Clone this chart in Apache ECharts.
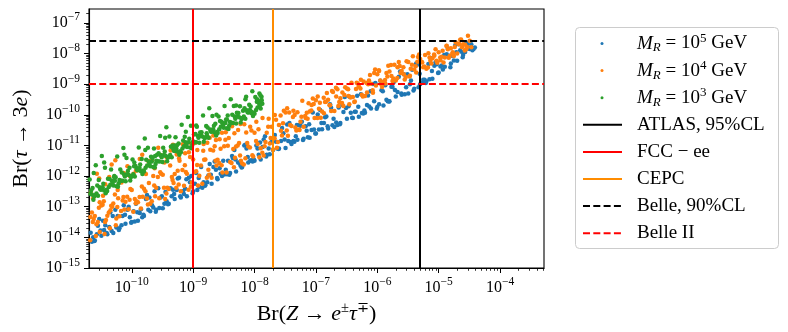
<!DOCTYPE html>
<html>
<head>
<meta charset="utf-8">
<script src="https://cdn.jsdelivr.net/npm/echarts@6/dist/echarts.min.js"></script>
<style>
  html, body { margin: 0; padding: 0; background: #fff; }
  #chart { width: 788px; height: 332px; }
</style>
</head>
<body>
<div id="chart"></div>
<script>
// Br(Z -> e tau) vs Br(tau -> 3e), values
var mr5 = [
  [2.0e-11,5.6e-15],[2.14e-11,1.41e-14],[2.35e-11,1.0e-14],[2.5e-11,7.9e-15],[2.7e-11,1.26e-14],[2.95e-11,4.0e-14],
  [3.2e-11,1.12e-14],[3.4e-11,3.5e-14],[3.7e-11,2.5e-14],[4.0e-11,1.26e-14],[4.3e-11,2.2e-14],[4.7e-11,1.6e-14],
  [5.0e-11,1.4e-14],[5.4e-11,7.9e-14],[5.9e-11,5.0e-14],[6.3e-11,2.0e-14],[6.8e-11,2.5e-14],[7.4e-11,1.12e-13],
  [7.9e-11,2.8e-14],[8.5e-11,7.9e-14],[9.3e-11,4.5e-14],[1.0e-10,3.2e-14],[1.07e-10,7.1e-14],[1.17e-10,1.26e-13],
  [1.26e-10,3.5e-14],[1.35e-10,6.3e-14],[1.48e-10,4.5e-14],[1.58e-10,5.0e-14],[1.7e-10,1.8e-13],[1.86e-10,7.9e-14],
  [2.0e-10,7.1e-14],[2.14e-10,1.12e-13],[2.35e-10,3.2e-13],[2.5e-10,7.9e-14],[2.7e-10,4.0e-13],[2.95e-10,2.0e-13],
  [3.2e-10,8.9e-14],[3.4e-10,1.26e-13],[3.7e-10,1.5e-13],[4.0e-10,1.26e-13],[4.3e-10,4.0e-13],[4.7e-10,3.6e-13],
  [5.0e-10,1.8e-13],[5.4e-10,3.5e-13],[5.9e-10,8.9e-13],[6.3e-10,2.0e-13],[6.8e-10,3.2e-13],[7.4e-10,3.9e-13],
  [7.9e-10,2.2e-13],[8.5e-10,8.9e-13],[9.3e-10,1.0e-12],[1.0e-9,3.2e-13],[1.07e-9,5.6e-13],[1.17e-9,3.5e-13],
  [1.26e-9,4.5e-13],[1.35e-9,2.0e-12],[1.48e-9,6.3e-13],[1.58e-9,5.0e-13],[1.7e-9,6.3e-13],[1.86e-9,2.5e-12],
  [2.0e-9,5.6e-13],[2.14e-9,2.0e-12],[2.35e-9,1.6e-12],[2.5e-9,7.9e-13],[2.7e-9,1.8e-12],[2.95e-9,1.0e-12],
  [3.2e-9,1.12e-12],[3.4e-9,1.6e-12],[3.7e-9,3.2e-12],[4.0e-9,1.26e-12],[4.3e-9,4.5e-12],[4.7e-9,7.1e-12],
  [5.0e-9,1.4e-12],[5.4e-9,2.8e-12],[5.9e-9,2.2e-12],[6.3e-9,2.0e-12],[6.8e-9,1.0e-11],[7.4e-9,7.9e-12],
  [7.9e-9,2.8e-12],[8.5e-9,3.2e-12],[9.3e-9,3.0e-12],[1.0e-8,3.2e-12],[1.07e-8,1.0e-11],[1.17e-8,5.0e-12],
  [1.26e-8,3.5e-12],[1.35e-8,8.9e-12],[1.48e-8,2.0e-11],[1.58e-8,5.0e-12],[1.7e-8,7.9e-12],[1.86e-8,1.26e-11],
  [2.0e-8,7.1e-12],[2.14e-8,2.2e-11],[2.35e-8,7.9e-12],[2.5e-8,7.9e-12],[2.7e-8,1.4e-11],[2.95e-8,2.5e-11],
  [3.2e-8,8.3e-12],[3.4e-8,4.8e-11],[3.7e-8,5.4e-11],[4.0e-8,1.12e-11],[4.3e-8,1.4e-11],[4.7e-8,2.0e-11],
  [5.0e-8,1.55e-11],[5.4e-8,4.7e-11],[5.9e-8,5.9e-11],[6.3e-8,1.66e-11],[6.8e-8,4.2e-11],[7.4e-8,1.86e-11],
  [7.9e-8,1.8e-11],[8.5e-8,3.2e-11],[9.3e-8,3.3e-11],[1.0e-7,2.45e-11],[1.07e-7,1.02e-10],[1.17e-7,1.45e-10],
  [1.26e-7,3.4e-11],[1.35e-7,5.4e-11],[1.48e-7,8.9e-11],[1.58e-7,3.6e-11],[1.7e-7,2.2e-10],[1.86e-7,4.6e-11],
  [2.0e-7,4.0e-11],[2.14e-7,5.6e-11],[2.35e-7,1.74e-10],[2.5e-7,5.4e-11],[2.7e-7,2.1e-10],[2.95e-7,3.8e-10],
  [3.2e-7,7.4e-11],[3.4e-7,1.9e-10],[3.7e-7,1.17e-10],[4.0e-7,7.9e-11],[4.3e-7,1.26e-10],[4.7e-7,4.2e-10],
  [5.0e-7,8.7e-11],[5.4e-7,4.7e-10],[5.9e-7,1.1e-10],[6.3e-7,1.17e-10],[6.8e-7,2.1e-10],[7.4e-7,1.86e-10],
  [7.9e-7,1.6e-10],[8.5e-7,1.02e-9],[9.3e-7,1.1e-9],[1.0e-6,1.8e-10],[1.07e-6,2.2e-10],[1.17e-6,6.3e-10],
  [1.26e-6,2.0e-10],[1.35e-6,9.3e-10],[1.48e-6,2.8e-10],[1.58e-6,2.8e-10],[1.7e-6,8.3e-10],[1.86e-6,1.17e-9],
  [2.0e-6,4.0e-10],[2.14e-6,5.6e-10],[2.35e-6,2.6e-9],[2.5e-6,4.5e-10],[2.7e-6,2.1e-9],[2.95e-6,7.9e-10],
  [3.2e-6,5.0e-10],[3.4e-6,1.0e-9],[3.7e-6,2.95e-9],[4.0e-6,7.1e-10],[4.3e-6,4.7e-9],[4.7e-6,7.9e-10],
  [5.0e-6,1.0e-9],[5.4e-6,1.12e-9],[5.9e-6,1.4e-9],[6.3e-6,1.23e-9],[6.8e-6,4.6e-9],[7.4e-6,7.2e-9],
  [7.9e-6,1.5e-9],[8.5e-6,4.0e-9],[9.3e-6,4.5e-9],[1.0e-5,2.4e-9],[1.07e-5,3.8e-9],[1.17e-5,3.0e-9],
  [1.26e-5,3.7e-9],[1.35e-5,9.5e-9],[1.48e-5,8.5e-9],[1.58e-5,4.7e-9],[1.7e-5,8.3e-9],[1.86e-5,1.86e-8],
  [2.0e-5,5.8e-9],[2.14e-5,2.0e-8],[2.35e-5,1.15e-8],[2.5e-5,8.9e-9],[2.7e-5,1.12e-8],[2.95e-5,2.0e-8],
  [3.2e-5,1.4e-8],[3.4e-5,2.0e-8],[3.7e-5,1.4e-8],
  [2.24e-11,7.2e-15],[2.46e-11,7.6e-15],[2.81e-11,2.4e-14],[3.09e-11,1.66e-14],[3.54e-11,1.74e-14],[3.89e-11,1.38e-14],
  [4.46e-11,6.6e-14],[4.9e-11,5.0e-14],[5.61e-11,2.1e-14],[6.16e-11,1.74e-14],[7.07e-11,5.0e-14],[7.76e-11,5.5e-14],
  [8.89e-11,1.0e-13],[9.77e-11,3.0e-14],[1.12e-10,3.3e-14],[1.23e-10,6.6e-14],[1.41e-10,8.3e-14],[1.55e-10,5.5e-14],
  [1.77e-10,2.4e-13],[1.94e-10,2.0e-13],[2.24e-10,9.5e-14],[2.46e-10,6.9e-14],[2.81e-10,9.1e-14],[3.09e-10,2.2e-13],
  [3.54e-10,3.0e-13],[3.89e-10,1.2e-13],[4.46e-10,2.2e-13],[4.9e-10,2.6e-13],[5.61e-10,8.3e-13],[6.16e-10,2.2e-13],
  [7.07e-10,2.6e-13],[7.76e-10,7.9e-13],[8.89e-10,6.3e-13],[9.77e-10,2.75e-13],[1.12e-9,1.26e-12],[1.23e-9,8.7e-13],
  [1.41e-9,4.2e-13],[1.55e-9,4.8e-13],[1.77e-9,1.05e-12],[1.94e-9,1.1e-12],[2.24e-9,3.0e-12],[2.46e-9,8.7e-13],
  [2.81e-9,1.2e-12],[3.09e-9,3.2e-12],[3.54e-9,1.15e-12],[3.89e-9,1.1e-12],[4.46e-9,3.8e-12],[4.9e-9,3.5e-12],
  [5.61e-9,2.75e-12],[6.16e-9,1.9e-12],[7.07e-9,1.05e-11],[7.76e-9,4.2e-12],[8.89e-9,3.3e-12],[9.77e-9,3.5e-12],
  [1.12e-8,7.9e-12],[1.23e-8,1.26e-11],[1.41e-8,1.58e-11],[1.55e-8,4.4e-12],[1.77e-8,5.2e-12],[1.94e-8,1.38e-11],
  [2.24e-8,1.32e-11],[2.46e-8,7.6e-12],[2.81e-8,3.7e-11],[3.09e-8,1.58e-11],[3.54e-8,1.41e-11],[3.89e-8,1.29e-11],
  [4.46e-8,1.32e-11],[4.9e-8,4.7e-11],[5.61e-8,4.4e-11],[6.16e-8,1.51e-11],[7.07e-8,3.0e-11],[7.76e-8,4.9e-11],
  [8.89e-8,1.2e-10],[9.77e-8,2.45e-11],[1.12e-7,3.3e-11],[1.23e-7,5.4e-11],[1.41e-7,8.3e-11],[1.55e-7,4.2e-11],
  [1.77e-7,1.7e-10],[1.94e-7,7.4e-11],[2.24e-7,4.7e-11],[2.46e-7,4.9e-11],[2.81e-7,1.23e-10],[3.09e-7,1.66e-10],
  [3.54e-7,3.9e-10],[3.89e-7,8.1e-11],[4.46e-7,1.26e-10],[4.9e-7,1.82e-10],[5.61e-7,1.15e-10],[6.16e-7,1.38e-10],
  [7.07e-7,4.3e-10],[7.76e-7,5.9e-10],[8.89e-7,2.8e-10],[9.77e-7,1.58e-10],[1.12e-6,1.29e-9],[1.23e-6,5.9e-10],
  [1.41e-6,3.1e-10],[1.55e-6,2.75e-10],[1.77e-6,8.1e-10],[1.94e-6,6.5e-10],[2.24e-6,1.74e-9],[2.46e-6,5.0e-10],
  [2.81e-6,4.7e-10],[3.09e-6,2.1e-9],[3.54e-6,1.32e-9],[3.89e-6,6.2e-10],[4.46e-6,4.3e-9],[4.9e-6,2.2e-9],
  [5.61e-6,1.41e-9],[6.16e-6,1.1e-9],[7.07e-6,1.45e-9],[7.76e-6,2.7e-9],[8.89e-6,5.2e-9],[9.77e-6,2.3e-9],
  [1.12e-5,4.1e-9],[1.23e-5,8.9e-9],[1.41e-5,1.45e-8],[1.55e-5,3.6e-9],[1.77e-5,5.9e-9],[1.94e-5,1.1e-8],
  [2.24e-5,1.29e-8],[2.46e-5,7.6e-9],[2.81e-5,2.3e-8],[3.09e-5,1.51e-8],[3.54e-5,1.29e-8],[3.89e-5,1.58e-8]
];

var mr4 = [
  [2.1e-11,8.0e-15],[2.6e-11,1.1e-14],[3.0e-11,1.5e-14],[3.6e-11,1.3e-14],[4.4e-11,2.0e-14],[5.5e-11,2.5e-14],
  [2.0e-11,1.9e-14],[2.24e-11,6.5e-14],[2.4e-11,4.0e-14],[2.14e-11,2.8e-13],[2.35e-11,1.9e-13],
  [2.5e-11,5.0e-14],[2.8e-11,3.2e-14],[3.0e-11,1.4e-13],[2.7e-11,1.2e-12],[2.95e-11,8.3e-13],
  [3.2e-11,1.1e-13],[3.5e-11,1.5e-13],[3.8e-11,3.7e-14],[3.4e-11,2.3e-13],[3.7e-11,5.4e-13],
  [4.0e-11,5.1e-14],[4.5e-11,7.7e-14],[4.8e-11,1.0e-13],[4.3e-11,9.3e-13],[4.7e-11,2.4e-12],
  [5.0e-11,1.27e-13],[5.6e-11,4.1e-14],[6.0e-11,1.9e-13],[5.4e-11,3.3e-12],[5.9e-11,3.5e-13],
  [6.3e-11,4.9e-14],[7.1e-11,1.6e-13],[7.6e-11,8.1e-14],[6.8e-11,6.2e-13],[7.4e-11,1.26e-12],
  [7.9e-11,1.45e-13],[8.9e-11,8.3e-14],[9.5e-11,3.8e-13],[8.5e-11,2.1e-12],[9.3e-11,1.0e-12],
  [1.0e-10,3.5e-13],[1.12e-10,1.8e-13],[1.2e-10,1.5e-13],[1.07e-10,1.2e-12],[1.17e-10,1.5e-12],
  [1.26e-10,1.4e-13],[1.41e-10,8.7e-14],[1.51e-10,2.1e-13],[1.35e-10,3.6e-12],[1.48e-10,5.0e-12],
  [1.58e-10,3.9e-13],[1.77e-10,1.86e-13],[1.9e-10,5.9e-13],[1.7e-10,1.17e-12],[1.86e-10,3.1e-12],
  [2.0e-10,1.25e-13],[2.24e-10,1.0e-12],[2.4e-10,2.2e-13],[2.14e-10,3.35e-12],[2.35e-10,1.8e-12],
  [2.5e-10,4.2e-13],[2.8e-10,1.9e-13],[3.0e-10,1.2e-12],[2.7e-10,8.5e-12],[2.95e-10,4.9e-12],
  [3.2e-10,1.1e-12],[3.5e-10,1.8e-13],[3.8e-10,4.2e-13],[3.4e-10,2.8e-12],[3.7e-10,4.1e-12],
  [4.0e-10,3.8e-13],[4.5e-10,9.3e-13],[4.8e-10,5.9e-13],[4.3e-10,6.9e-12],[4.7e-10,1.05e-11],
  [5.0e-10,1.17e-12],[5.6e-10,1.5e-12],[6.0e-10,3.2e-12],[5.4e-10,5.1e-12],[5.9e-10,3.8e-12],
  [6.3e-10,3.2e-13],[7.1e-10,4.8e-13],[7.6e-10,1.35e-12],[6.8e-10,1.1e-11],[7.4e-10,5.6e-12],
  [7.9e-10,1.2e-12],[8.9e-10,4.2e-12],[9.5e-10,6.2e-13],[8.5e-10,6.0e-12],[9.3e-10,1.17e-11],
  [1.0e-9,3.5e-12],[1.12e-9,1.45e-12],[1.2e-9,4.9e-13],[1.07e-9,1.2e-11],[1.17e-9,7.1e-12],
  [1.26e-9,1.02e-12],[1.41e-9,5.6e-13],[1.51e-9,3.4e-12],[1.35e-9,2.1e-11],[1.48e-9,1.12e-11],
  [1.58e-9,3.5e-12],[1.77e-9,1.6e-12],[1.9e-9,7.2e-12],[1.7e-9,1.23e-11],[1.86e-9,1.8e-11],
  [2.0e-9,8.9e-13],[2.24e-9,9.5e-12],[2.4e-9,2.2e-12],[2.14e-9,2.1e-11],[2.35e-9,1.5e-11],
  [2.5e-9,3.4e-12],[2.8e-9,7.8e-12],[3.0e-9,1.3e-12],[2.7e-9,1.6e-11],[2.95e-9,2.6e-11],
  [3.2e-9,9.5e-12],[3.5e-9,1.3e-12],[3.8e-9,1.74e-11],[3.4e-9,2.7e-11],[3.7e-9,3.5e-11],
  [4.0e-9,2.9e-12],[4.5e-9,7.6e-12],[4.8e-9,4.0e-12],[4.3e-9,4.2e-11],[4.7e-9,2.5e-11],
  [5.0e-9,9.3e-12],[5.6e-9,1.2e-11],[6.0e-9,3.2e-12],[5.4e-9,3.2e-11],[5.9e-9,5.0e-11],
  [6.3e-9,2.6e-12],[7.1e-9,3.8e-12],[7.6e-9,1.2e-11],[6.8e-9,4.9e-11],
  [7.9e-9,9.3e-12],[8.9e-9,3.1e-11],[9.5e-9,4.4e-12],[8.5e-9,4.1e-11],
  [1.0e-8,2.6e-11],[1.12e-8,1.12e-11],[1.2e-8,4.1e-12],[1.07e-8,6.0e-11],
  [1.26e-8,8.1e-12],[1.41e-8,4.7e-12],[1.51e-8,1.3e-11],[1.35e-8,7.9e-11],
  [1.58e-8,2.6e-11],[1.77e-8,1.15e-11],[1.9e-8,4.1e-11],[1.7e-8,7.4e-11],
  [2.0e-8,7.4e-12],[2.24e-8,6.9e-11],[2.4e-8,1.3e-11],[2.14e-8,9.8e-11],
  [2.5e-8,4.7e-11],[2.8e-8,2.1e-11],[3.0e-8,1.37e-10],[2.7e-8,3.0e-11],
  [3.2e-8,1.19e-10],[3.5e-8,2.07e-11],[3.8e-8,4.7e-11],[3.4e-8,1.64e-10],
  [4.0e-8,4.3e-11],[4.5e-8,9.9e-11],[4.8e-8,3.1e-11],[4.3e-8,1.37e-10],
  [5.0e-8,1.22e-10],[5.6e-8,5.9e-11],[6.0e-8,2.9e-10],[5.4e-8,3.2e-11],
  [6.3e-8,4.1e-11],[7.1e-8,1.17e-10],[7.6e-8,2.4e-10],[6.8e-8,7.9e-11],
  [7.9e-8,1.28e-10],[8.9e-8,3.4e-10],[9.5e-8,7.9e-11],[8.5e-8,2.1e-10],
  [1.0e-7,3.0e-10],[1.12e-7,1.57e-10],[1.2e-7,8.1e-11],[1.07e-7,4.0e-10],
  [1.26e-7,1.28e-10],[1.41e-7,2.6e-10],[1.51e-7,5.2e-10],[1.35e-7,1.12e-10],
  [1.58e-7,3.1e-10],[1.77e-7,1.33e-10],[1.9e-7,5.6e-10],[1.7e-7,2.07e-10],
  [2.0e-7,1.33e-10],[2.24e-7,6.8e-10],[2.4e-7,2.6e-10],[2.14e-7,4.0e-10],
  [2.5e-7,3.5e-10],[2.8e-7,1.93e-10],[3.0e-7,7.9e-10],[2.7e-7,5.4e-10],
  [3.2e-7,7.2e-10],[3.5e-7,2.2e-10],[3.8e-7,1.12e-9],[3.4e-7,4.1e-10],
  [4.0e-7,3.8e-10],[4.5e-7,7.0e-10],[4.8e-7,1.06e-9],[4.3e-7,2.7e-10],
  [5.0e-7,8.5e-10],[5.6e-7,4.5e-10],[6.0e-7,1.22e-9],[5.4e-7,1.4e-9],
  [6.3e-7,4.1e-10],[7.1e-7,1.0e-9],[7.6e-7,2.0e-9],[6.8e-7,5.4e-10],
  [7.9e-7,1.04e-9],[8.9e-7,2.3e-9],[9.5e-7,9.0e-10],[8.5e-7,5.3e-10],
  [1.0e-6,2.1e-9],[1.12e-6,1.33e-9],[1.2e-6,8.1e-10],[1.07e-6,2.7e-9],
  [1.26e-6,1.17e-9],[1.41e-6,2.3e-9],[1.51e-6,4.0e-9],[1.35e-6,1.06e-9],
  [1.58e-6,2.6e-9],[1.77e-6,1.28e-9],[1.9e-6,4.3e-9],[1.7e-6,1.84e-9],
  [2.0e-6,1.33e-9],[2.24e-6,5.3e-9],[2.4e-6,2.3e-9],[2.14e-6,3.6e-9],
  [2.5e-6,2.7e-9],[2.8e-6,1.43e-9],[3.0e-6,5.6e-9],[2.7e-6,2.1e-9],
  [3.2e-6,5.3e-9],[3.5e-6,3.2e-9],[3.8e-6,8.1e-9],[3.4e-6,1.9e-9],
  [4.0e-6,3.0e-9],[4.5e-6,5.4e-9],[4.8e-6,9.3e-9],[4.3e-6,2.4e-9],
  [5.0e-6,6.6e-9],[5.6e-6,3.6e-9],[6.0e-6,9.0e-9],[5.4e-6,5.1e-9],
  [6.3e-6,3.2e-9],[7.1e-6,7.5e-9],[7.6e-6,4.7e-9],[6.8e-6,1.03e-8],
  [7.9e-6,7.0e-9],[8.9e-6,1.38e-8],[9.5e-6,5.0e-9],[8.5e-6,8.5e-9],
  [1.0e-5,1.1e-8],[1.12e-5,7.8e-9],[1.2e-5,5.1e-9],[1.07e-5,6.0e-9],
  [1.26e-5,7.4e-9],[1.41e-5,1.38e-8],[1.51e-5,8.3e-9],[1.35e-5,1.8e-8],
  [1.58e-5,1.48e-8],[1.77e-5,8.3e-9],[1.9e-5,2.3e-8],[1.7e-5,1.1e-8],
  [2.0e-5,1.0e-8],[2.24e-5,2.8e-8],[2.4e-5,1.6e-8],[2.14e-5,2.1e-8],
  [2.5e-5,2.0e-8],[2.8e-5,1.38e-8],[3.0e-5,3.8e-8],[2.7e-5,1.95e-8],
  [3.2e-5,2.6e-8],[3.4e-5,1.6e-8],
  [2.12e-11,4.6e-14],[2.32e-11,3.2e-14],[2.66e-11,2.7e-14],[2.91e-11,9.2e-14],[3.35e-11,1.16e-13],[3.67e-11,3.2e-14],
  [4.22e-11,6.5e-14],[4.62e-11,1.08e-13],[5.31e-11,2.5e-13],[5.81e-11,9.8e-14],[6.69e-11,7.2e-14],[7.32e-11,2.07e-13],
  [8.42e-11,2.1e-13],[9.21e-11,1.68e-13],[1.06e-10,6.8e-14],[1.16e-10,1.3e-13],[1.34e-10,2.07e-13],[1.46e-10,4.6e-13],
  [1.67e-10,3.2e-13],[1.83e-10,1.19e-13],[2.12e-10,1.5e-13],[2.32e-10,4.95e-13],[2.66e-10,9.4e-13],[2.91e-10,1.33e-12],
  [3.35e-10,4.2e-13],[3.67e-10,2.7e-13],[4.22e-10,2.2e-12],[4.62e-10,7.4e-13],[5.31e-10,4.2e-13],[5.81e-10,5.3e-13],
  [6.69e-10,1.57e-12],[7.32e-10,2.26e-12],[8.42e-10,3.6e-13],[9.21e-10,4.5e-13],[1.06e-9,1.36e-12],[1.16e-9,2.3e-12],
  [1.34e-9,2.2e-12],[1.46e-9,6.7e-12],[1.67e-9,8.8e-13],[1.83e-9,1.11e-12],[2.12e-9,6.8e-12],[2.32e-9,3.2e-12],
  [2.66e-9,2.7e-12],[2.91e-9,2.26e-12],[3.35e-9,1.53e-11],[3.67e-9,9.7e-12],[4.22e-9,2.66e-12],[4.62e-9,1.93e-12],
  [5.31e-9,9.9e-12],[5.81e-9,4.7e-12],[6.69e-9,2.4e-12],[7.32e-9,2.66e-11],[8.42e-9,8.6e-12],[9.21e-9,4.8e-12],
  [1.06e-8,1.4e-11],[1.16e-8,3.4e-11],[1.34e-8,5.8e-12],[1.46e-8,9.4e-12],[1.67e-8,4.1e-11],[1.83e-8,1.76e-11],
  [2.12e-8,1.72e-11],[2.32e-8,8.5e-12],[2.66e-8,9.5e-11],[2.91e-8,5.3e-11],[3.35e-8,3.1e-11],[3.67e-8,1.2e-10],
  [4.22e-8,8.5e-11],[4.62e-8,3.85e-11],[5.31e-8,3.3e-11],[5.81e-8,8.7e-11],[6.69e-8,9.1e-11],[7.32e-8,7.4e-11],
  [8.42e-8,1.38e-10],[9.21e-8,2.24e-10],[1.06e-7,7.9e-11],[1.16e-7,2.5e-10],[1.34e-7,3.6e-10],[1.46e-7,2.66e-10],
  [1.67e-7,2.07e-10],[1.83e-7,6.0e-10],[2.12e-7,7.6e-10],[2.32e-7,1.93e-10],[2.66e-7,2.45e-10],[2.91e-7,4.4e-10],
  [3.35e-7,6.8e-10],[3.67e-7,3.7e-10],[4.22e-7,2.6e-10],[4.62e-7,1.12e-9],[5.31e-7,7.2e-10],[5.81e-7,4.0e-10],
  [6.69e-7,1.1e-9],[7.32e-7,1.33e-9],[8.42e-7,6.3e-10],[9.21e-7,3.0e-9],[1.06e-6,2.85e-9],[1.16e-6,9.7e-10],
  [1.34e-6,1.36e-9],[1.46e-6,1.8e-9],[1.67e-6,4.2e-9],[1.83e-6,1.53e-9],[2.12e-6,1.58e-9],[2.32e-6,3.9e-9],
  [2.66e-6,3.6e-9],[2.91e-6,1.72e-9],[3.35e-6,1.8e-9],[3.67e-6,4.3e-9],[4.22e-6,3.85e-9],[4.62e-6,7.7e-9],
  [5.31e-6,5.3e-9],[5.81e-6,3.75e-9],[6.69e-6,3.5e-9],[7.32e-6,5.8e-9],[8.42e-6,9.4e-9],[9.21e-6,5.8e-9],
  [1.06e-5,7.5e-9],[1.16e-5,1.23e-8],[1.34e-5,1.78e-8],[1.46e-5,7.3e-9],[1.67e-5,1.0e-8],[1.83e-5,1.64e-8],
  [2.12e-5,2.0e-8],[2.32e-5,2.9e-8],[2.66e-5,1.26e-8],[2.91e-5,1.64e-8]
];

var mr3 = [
  [2.0e-11,1.58e-13],[2.12e-11,2.67e-13],[2.06e-11,7.8e-13],[2.24e-11,2.52e-13],[2.37e-11,1.69e-13],[2.3e-11,4.1e-13],
  [2.51e-11,2.37e-13],[2.66e-11,2.7e-13],[2.59e-11,2.26e-12],[2.82e-11,2.28e-13],[2.99e-11,4.3e-13],[2.9e-11,7.4e-13],
  [3.16e-11,3.6e-13],[3.35e-11,4.3e-13],[3.25e-11,4.5e-12],[3.55e-11,3.4e-13],[3.76e-11,2.74e-13],[3.66e-11,1.87e-12],
  [3.98e-11,3.27e-13],[4.22e-11,4.4e-13],[4.1e-11,8.2e-13],[4.47e-11,5.2e-13],[4.74e-11,7.0e-13],[4.6e-11,1.65e-12],
  [5.01e-11,4.9e-13],[5.31e-11,7.0e-13],[5.16e-11,9.3e-13],[5.62e-11,4.7e-13],[5.96e-11,4.45e-13],[5.79e-11,4.4e-12],
  [6.31e-11,7.5e-13],[6.69e-11,7.1e-13],[6.5e-11,1.64e-12],[7.08e-11,7.0e-13],[7.5e-11,1.13e-12],[7.3e-11,8.3e-12],
  [7.94e-11,6.8e-13],[8.42e-11,1.14e-12],[8.2e-11,3.9e-12],[8.91e-11,1.08e-12],[9.44e-11,7.2e-13],[9.2e-11,1.87e-12],
  [1.0e-10,1.01e-12],[1.06e-10,1.15e-12],[1.03e-10,3.5e-12],[1.12e-10,9.7e-13],[1.19e-10,1.83e-12],[1.15e-10,2.12e-12],
  [1.26e-10,1.55e-12],[1.34e-10,1.85e-12],[1.3e-10,8.6e-12],[1.41e-10,1.45e-12],[1.49e-10,1.17e-12],[1.45e-10,3.65e-12],
  [1.58e-10,1.4e-12],[1.68e-10,1.87e-12],[1.63e-10,1.68e-11],[1.78e-10,2.22e-12],[1.89e-10,2.97e-12],[1.83e-10,8.45e-12],
  [2.0e-10,2.09e-12],[2.12e-10,2.99e-12],[2.06e-10,4.27e-12],[2.24e-10,2.0e-12],[2.37e-10,1.9e-12],[2.3e-10,8.0e-12],
  [2.51e-10,3.2e-12],[2.66e-10,3.03e-12],[2.59e-10,4.95e-12],[2.82e-10,3.0e-12],[2.99e-10,4.8e-12],[2.9e-10,2.03e-11],
  [3.16e-10,2.9e-12],[3.35e-10,4.85e-12],[3.25e-10,8.5e-12],[3.55e-10,4.6e-12],[3.76e-10,3.08e-12],[3.66e-10,3.9e-11],
  [3.98e-10,4.3e-12],[4.22e-10,4.9e-12],[4.1e-10,1.97e-11],[4.47e-10,4.14e-12],[4.74e-10,7.8e-12],[4.6e-10,9.9e-12],
  [5.01e-10,6.6e-12],[5.31e-10,7.9e-12],[5.16e-10,1.86e-11],[5.62e-10,6.2e-12],[5.96e-10,5.0e-12],[5.79e-10,1.15e-11],
  [6.31e-10,5.96e-12],[6.69e-10,7.96e-12],[6.5e-10,4.73e-11],[7.08e-10,9.5e-12],[7.5e-10,1.27e-11],[7.3e-10,1.94e-11],
  [7.94e-10,8.9e-12],[8.42e-10,1.28e-11],[8.2e-10,8.5e-11],[8.91e-10,8.55e-12],[9.44e-10,8.1e-12],[9.2e-10,4.4e-11],
  [1.0e-9,1.36e-11],[1.06e-9,1.29e-11],[1.03e-9,2.26e-11],[1.12e-9,1.28e-11],[1.19e-9,2.06e-11],[1.15e-9,4.05e-11],
  [1.26e-9,1.23e-11],[1.34e-9,2.07e-11],[1.3e-9,2.63e-11],[1.41e-9,1.96e-11],[1.49e-9,1.31e-11],[1.45e-9,9.6e-11],
  [1.58e-9,1.84e-11],[1.68e-9,2.1e-11],[1.63e-9,4.3e-11],[1.78e-9,1.77e-11],[1.89e-9,3.33e-11],[1.83e-9,1.65e-10],
  [2.0e-9,2.82e-11],[2.12e-9,3.36e-11],[2.06e-9,9.1e-11],[2.24e-9,2.64e-11],[2.37e-9,2.13e-11],[2.3e-9,5.15e-11],
  [2.51e-9,2.54e-11],[2.66e-9,3.4e-11],[2.59e-9,8.8e-11],[2.82e-9,4.05e-11],[2.99e-9,5.4e-11],[2.9e-9,5.98e-11],
  [3.16e-9,3.8e-11],[3.35e-9,5.45e-11],[3.25e-9,1.95e-10],[3.55e-9,3.65e-11],[3.76e-9,3.45e-11],[3.66e-9,9.6e-11],
  [3.98e-9,5.8e-11],[4.22e-9,5.5e-11],[4.1e-9,3.2e-10],[4.47e-9,5.46e-11],[4.74e-9,8.8e-11],[4.6e-9,1.94e-10],
  [5.01e-9,5.25e-11],[5.31e-9,8.8e-11],[5.16e-9,1.17e-10],[5.62e-9,8.4e-11],[5.96e-9,5.6e-11],[5.79e-9,1.91e-10],
  [6.31e-9,7.85e-11],[6.69e-9,8.9e-11],[6.5e-9,1.36e-10],[7.08e-9,7.5e-11],[7.5e-9,1.42e-10],[7.3e-9,3.86e-10],
  [7.94e-9,1.2e-10],[8.42e-9,1.43e-10],[8.2e-9,2.14e-10],[8.91e-9,1.13e-10],[9.44e-9,9.1e-11],[9.2e-9,5.9e-10],
  [1.0e-8,1.08e-10],[1.06e-8,1.45e-10],[1.03e-8,3.85e-10],[1.12e-8,1.73e-10],[1.19e-8,2.3e-10],[1.15e-8,2.6e-10],
  [1.26e-8,1.62e-10],[1.34e-8,2.32e-10],[1.3e-8,3.9e-10],[1.2e-8,5.0e-10],[1.25e-8,4.3e-10],[1.1e-8,3.2e-10],
  [1.28e-8,3.0e-10],
  // upper edge of the dense green strip
  [2.18e-11,3.47e-13],[2.44e-11,2.2e-13],[2.74e-11,4.95e-13],[3.07e-11,3.69e-13],[3.44e-11,5.6e-13],[3.87e-11,3.56e-13],
  [4.34e-11,8.0e-13],[4.87e-11,6.0e-13],[5.46e-11,9.1e-13],[6.13e-11,5.8e-13],[6.88e-11,1.3e-12],[7.72e-11,9.7e-13],
  [8.65e-11,1.48e-12],[9.71e-11,9.4e-13],[1.09e-10,2.11e-12],[1.22e-10,1.57e-12],[1.37e-10,2.4e-12],[1.54e-10,1.52e-12],
  [1.72e-10,3.43e-12],[1.94e-10,2.55e-12],[2.18e-10,3.9e-12],[2.44e-10,2.47e-12],[2.74e-10,5.56e-12],[3.07e-10,4.14e-12],
  [3.44e-10,6.3e-12],[3.87e-10,4.0e-12],[4.34e-10,9.0e-12],[4.87e-10,6.7e-12],[5.46e-10,1.02e-11],[6.13e-10,6.5e-12],
  [6.88e-10,1.46e-11],[7.72e-10,1.09e-11],[8.65e-10,1.66e-11],[9.71e-10,1.05e-11],[1.09e-9,2.37e-11],[1.22e-9,1.77e-11],
  [1.37e-9,2.69e-11],[1.54e-9,1.71e-11],[1.72e-9,3.85e-11],[1.94e-9,2.86e-11],[2.18e-9,4.37e-11],[2.44e-9,2.77e-11],
  [2.74e-9,6.24e-11],[3.07e-9,4.65e-11],[3.44e-9,7.1e-11],[3.87e-9,4.49e-11],[4.34e-9,1.01e-10],[4.87e-9,7.5e-11],
  [5.46e-9,1.15e-10],[6.13e-9,7.3e-11],[6.88e-9,1.64e-10],[7.72e-9,1.22e-10],[8.65e-9,1.86e-10],[9.71e-9,1.18e-10],
  [1.09e-8,2.66e-10],[1.22e-8,1.98e-10],[1.31e-8,3.0e-10],
  // scattered points above the strip
  [2.4e-11,1.26e-12],[3.55e-11,2.8e-12],[5.2e-11,1.0e-12],[7.6e-11,5.0e-12],[1.1e-10,2.8e-12],[1.66e-10,7.1e-12],
  [2.4e-10,4.5e-12],[3.5e-10,1.8e-11],[5.0e-10,1.0e-11],[7.6e-10,2.8e-11],[1.12e-9,4.5e-11],[1.66e-9,2.5e-11],
  [2.4e-9,1.0e-10],[3.55e-9,7.1e-11],[5.0e-9,2.0e-10],[7.1e-9,3.2e-10],[8.9e-9,1.26e-10]
];

// experimental limits
var vLimits = [5.0e-6, 1.0e-9, 2.0e-8];   // ATLAS, FCC-ee, CEPC  (Br(Z -> e tau))
var hLimits = [2.7e-8, 1.0e-9];           // Belle, Belle II       (Br(tau -> 3e))

var xTicks = [1e-10, 1e-9, 1e-8, 1e-7, 1e-6, 1e-5, 1e-4];
var yTicks = [1e-15, 1e-14, 1e-13, 1e-12, 1e-11, 1e-10, 1e-9, 1e-8, 1e-7];
var xMin = 2.01e-11, xMax = 5.2e-4;
var yMin = 1e-15, yMax = 2.85e-7;

var SERIF = '"Liberation Serif", "DejaVu Serif", serif';
var C_BLUE = '#1f77b4', C_ORANGE = '#ff7f0e', C_GREEN = '#2ca02c';
var DOT = 4.5;

function minorTicks(lo, hi) {
  var out = [];
  for (var e = Math.floor(Math.log10(lo)); e <= Math.ceil(Math.log10(hi)); e++) {
    for (var m = 2; m <= 9; m++) {
      var v = m * Math.pow(10, e);
      if (v >= lo && v <= hi) out.push(v);
    }
  }
  return out;
}

function sci(v) {
  var e = Math.round(Math.log10(v));
  return '{b|10}{s|' + (e < 0 ? '\u2212' : '') + Math.abs(e) + '}';
}

var tickRich = {
  b: { fontSize: 16, fontFamily: SERIF, color: '#000' },
  s: { fontSize: 11.5, fontFamily: SERIF, color: '#000', padding: [0, 0, 11, 0] }
};
var nameRich = {
  n: { fontSize: 22, fontFamily: SERIF, color: '#000' },
  i: { fontSize: 22, fontFamily: SERIF, fontStyle: 'italic', color: '#000' },
  p: { fontSize: 14.5, fontFamily: SERIF, color: '#000', padding: [0, 0, 12, 0] }
};

function mainAxis(min, max, ticks, extra) {
  var ax = {
    type: 'log', logBase: 10, min: min, max: max,
    axisLine: { show: true, onZero: false, lineStyle: { color: '#000', width: 1.1 } },
    axisTick: { show: true, inside: false, length: 5, customValues: ticks, lineStyle: { color: '#000', width: 1 } },
    axisLabel: { customValues: ticks, formatter: sci, rich: tickRich, color: '#000' },
    splitLine: { show: false }, minorTick: { show: false }, minorSplitLine: { show: false }
  };
  for (var k in extra) ax[k] = extra[k];
  return ax;
}
function minorAxis(min, max, pos) {
  return {
    type: 'log', logBase: 10, min: min, max: max, position: pos,
    axisLine: { show: false },
    axisTick: { show: true, inside: false, length: 2.8, customValues: minorTicks(min, max), lineStyle: { color: '#000', width: 0.8 } },
    axisLabel: { show: false }, splitLine: { show: false }
  };
}

var xMain = mainAxis(xMin, xMax, xTicks, {
  position: 'bottom',
  name: '{n|Br(}{i|Z}{n| \u2192 }{i|e}{p|\u00b1}{i|\u03c4}{p|\u2213}{n|)}',
  nameLocation: 'middle', nameGap: 32, nameTextStyle: { rich: nameRich }
});
xMain.axisLabel.margin = 8;
var yMain = mainAxis(yMin, yMax, yTicks, {
  position: 'left',
  name: '{n|Br(}{i|\u03c4}{n| \u2192 3}{i|e}{n|)}',
  nameLocation: 'middle', nameGap: 57, nameRotate: 90, nameTextStyle: { rich: nameRich }
});
yMain.axisLabel.margin = 9;

var solidNames = ['ATLAS, 95%CL', 'FCC \u2212 ee', 'CEPC'];
var solidColors = ['#000000', '#ff0000', '#ff8c00'];
var dashNames = ['Belle, 90%CL', 'Belle II'];
var dashColors = ['#000000', '#ff0000'];

var markData = [];
vLimits.forEach(function (v, i) {
  markData.push({ name: solidNames[i], xAxis: v, lineStyle: { color: solidColors[i], width: 2, type: 'solid' } });
});
hLimits.forEach(function (v, i) {
  markData.push({ name: dashNames[i], yAxis: v, lineStyle: { color: dashColors[i], width: 2, type: [7, 3.3] } });
});

// legend drawn by hand to match the matplotlib box
var legendRows = [
  { kind: 'dot', color: C_BLUE, text: '{i|M}{sub|R}{n| = 10}{sup|5}{n| GeV}' },
  { kind: 'dot', color: C_ORANGE, text: '{i|M}{sub|R}{n| = 10}{sup|4}{n| GeV}' },
  { kind: 'dot', color: C_GREEN, text: '{i|M}{sub|R}{n| = 10}{sup|3}{n| GeV}' },
  { kind: 'line', color: solidColors[0], text: '{n|' + solidNames[0] + '}' },
  { kind: 'line', color: solidColors[1], text: '{n|' + solidNames[1] + '}' },
  { kind: 'line', color: solidColors[2], text: '{n|' + solidNames[2] + '}' },
  { kind: 'dash', color: dashColors[0], text: '{n|' + dashNames[0] + '}' },
  { kind: 'dash', color: dashColors[1], text: '{n|' + dashNames[1] + '}' }
];
var legRich = {
  n: { fontSize: 19, fontFamily: SERIF, fill: '#000' },
  i: { fontSize: 19, fontFamily: SERIF, fontStyle: 'italic', fill: '#000' },
  sub: { fontSize: 13, fontFamily: SERIF, fontStyle: 'italic', fill: '#000', padding: [9, 0, 0, 0] },
  sup: { fontSize: 13, fontFamily: SERIF, fill: '#000', padding: [0, 0, 10, 0] }
};
var graphics = [{
  type: 'rect', z: 100,
  shape: { x: 575.5, y: 27.5, width: 203, height: 221, r: 4 },
  style: { fill: '#ffffff', stroke: '#cccccc', lineWidth: 1 }
}];
legendRows.forEach(function (row, i) {
  var y = 43.5 + 27.1 * i;
  if (row.kind === 'dot') {
    graphics.push({ type: 'circle', z: 101, shape: { cx: 602, cy: y, r: 1.5 }, style: { fill: row.color } });
  } else {
    graphics.push({
      type: 'line', z: 101, shape: { x1: 583, y1: y, x2: 622, y2: y },
      style: { stroke: row.color, lineWidth: 2, lineDash: row.kind === 'dash' ? [7, 3.3] : null }
    });
  }
  graphics.push({
    type: 'text', z: 101, x: 637, y: y,
    style: { text: row.text, rich: legRich, fill: '#000', verticalAlign: 'middle', align: 'left', fontFamily: SERIF, fontSize: 19 }
  });
});

var chart = echarts.init(document.getElementById('chart'), null, { renderer: 'canvas' });
chart.setOption({
  animation: false,
  backgroundColor: '#ffffff',
  grid: {
    left: 89, top: 9, width: 455, height: 259, containLabel: false, outerBoundsMode: 'none',
    show: true, borderColor: '#000', borderWidth: 1.1, backgroundColor: 'transparent'
  },
  xAxis: [xMain, minorAxis(xMin, xMax, 'bottom')],
  yAxis: [yMain, minorAxis(yMin, yMax, 'left')],
  series: [
    { name: 'MR1e5', type: 'scatter', data: mr5, symbolSize: DOT, itemStyle: { color: C_BLUE, opacity: 1 }, silent: true },
    { name: 'MR1e4', type: 'scatter', data: mr4, symbolSize: DOT, itemStyle: { color: C_ORANGE, opacity: 1 }, silent: true },
    {
      name: 'MR1e3', type: 'scatter', data: mr3, symbolSize: DOT, itemStyle: { color: C_GREEN, opacity: 1 }, silent: true,
      // precision must be high, otherwise tiny values are rounded to 0
      markLine: { symbol: ['none', 'none'], silent: true, animation: false, precision: 20, label: { show: false }, z: 10,
        emphasis: { disabled: true }, data: markData }
    }
  ],
  graphic: graphics
});
</script>
</body>
</html>
